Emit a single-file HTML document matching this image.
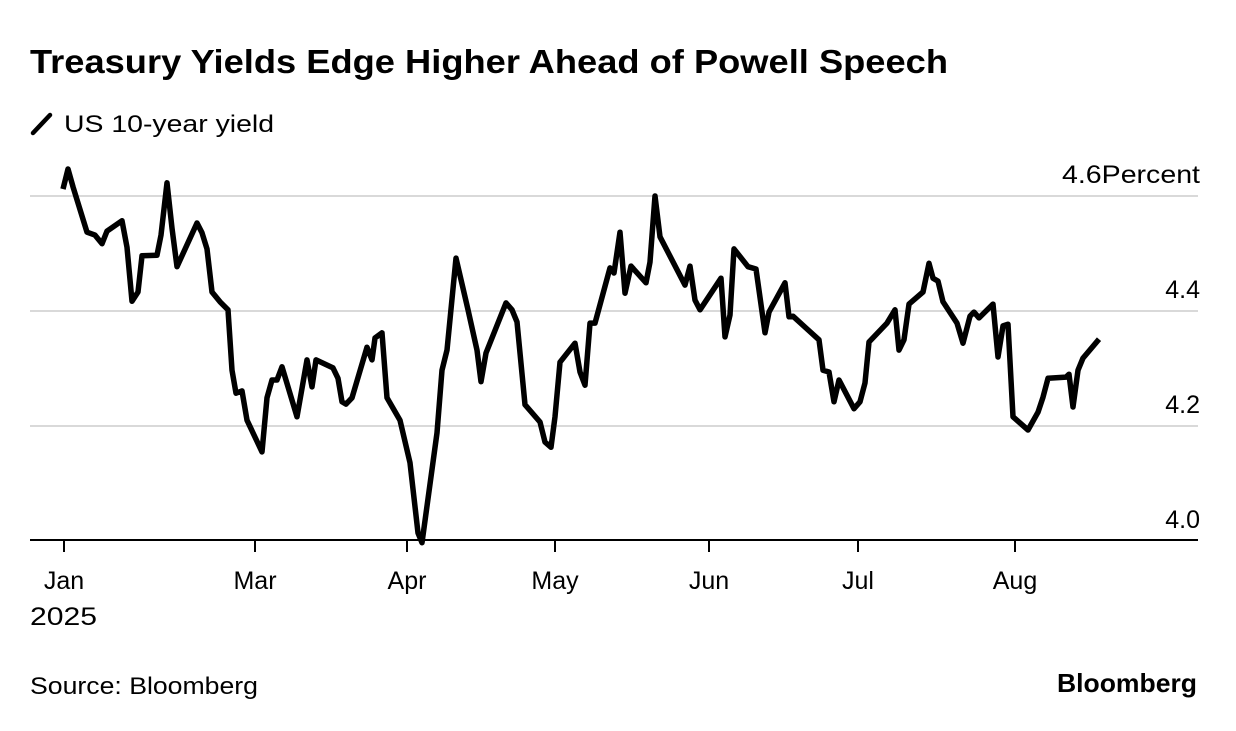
<!DOCTYPE html>
<html><head><meta charset="utf-8"><style>
html,body{margin:0;padding:0;background:#fff;}
body{width:1236px;height:726px;overflow:hidden;font-family:"Liberation Sans",sans-serif;}
</style></head><body>
<svg id="c" width="1236" height="726" xmlns="http://www.w3.org/2000/svg" font-family="Liberation Sans, sans-serif">
<text x="30" y="73" font-size="33" font-weight="bold" fill="#000" textLength="918" lengthAdjust="spacingAndGlyphs">Treasury Yields Edge Higher Ahead of Powell Speech</text>
<line x1="33" y1="133" x2="50" y2="115" stroke="#000" stroke-width="4.5" stroke-linecap="round"/>
<text x="64" y="132" font-size="24" fill="#000" textLength="210" lengthAdjust="spacingAndGlyphs">US 10-year yield</text>
<g id="grid"></g>
<g id="xaxis"></g>
<path id="line" fill="none" stroke="#000" stroke-width="5.5" stroke-linejoin="round"/>
<text x="30" y="625" font-size="25" fill="#000" textLength="67" lengthAdjust="spacingAndGlyphs">2025</text>
<text x="30" y="694" font-size="24" fill="#000" textLength="228" lengthAdjust="spacingAndGlyphs">Source: Bloomberg</text>
<text x="1197" y="692" font-size="26" font-weight="bold" text-anchor="end" fill="#000" textLength="140" lengthAdjust="spacingAndGlyphs">Bloomberg</text>
</svg>
<script>
const xs = [-0.2,0.8,1.8,4.6,6.2,7.6,8.6,11.6,12.6,13.6,14.8,15.6,18.6,19.4,20.6,21.6,22.6,26.6,27.6,28.6,29.6,31.2,32.8,33.6,34.4,35.6,36.6,39.6,40.6,41.6,42.6,43.6,46.6,48.6,49.6,50.4,53.8,54.8,55.6,56.4,57.6,60.6,61.6,62.2,63.6,64.6,67.2,69.2,70.8,71.6,74.6,75.6,76.6,78.4,80.8,82.6,83.4,84.4,88.4,89.6,90.6,92.2,95.2,96.2,97.4,98.2,99.2,102.2,103.2,104.2,105.2,106.2,109.2,110,111.2,112.2,113.4,116.4,117.2,118.2,119.2,124.2,125.2,126.2,127.2,131.4,132.2,133.2,134,136.8,138.4,140.2,141,144.2,145,145.8,148.2,151,151.8,153,154,155,158,159.2,160.2,161,164.6,166.2,167,168,169,171.8,173,173.8,174.8,175.8,178.6,179.8,181.2,182,183,185.8,186.8,187.8,188.8,189.8,192.8,194.8,195.8,196.8,200.4,201,201.8,202.8,203.8,207];
const yields = [4.612,4.647,4.616,4.537,4.532,4.517,4.539,4.557,4.511,4.417,4.433,4.496,4.497,4.532,4.623,4.544,4.477,4.553,4.536,4.508,4.433,4.416,4.402,4.297,4.257,4.261,4.210,4.155,4.249,4.280,4.280,4.303,4.216,4.315,4.268,4.315,4.301,4.283,4.242,4.238,4.249,4.337,4.315,4.353,4.362,4.249,4.210,4.136,4.014,3.997,4.188,4.297,4.332,4.492,4.402,4.332,4.277,4.327,4.414,4.402,4.381,4.237,4.207,4.172,4.163,4.216,4.311,4.344,4.294,4.271,4.379,4.379,4.475,4.466,4.537,4.431,4.478,4.449,4.485,4.600,4.529,4.445,4.478,4.419,4.402,4.457,4.355,4.393,4.508,4.477,4.473,4.362,4.398,4.449,4.390,4.391,4.372,4.350,4.297,4.294,4.242,4.280,4.230,4.242,4.275,4.346,4.379,4.402,4.332,4.350,4.412,4.433,4.483,4.457,4.452,4.416,4.379,4.344,4.391,4.398,4.388,4.412,4.320,4.374,4.377,4.216,4.193,4.224,4.250,4.283,4.285,4.290,4.233,4.297,4.318,4.351];
const monthLabels = ["Jan","Mar","Apr","May","Jun","Jul","Aug"];
const monthPos = [0,38.2,68.6,98.2,129,158.8,190.2];
const yTicks = [4.0,4.2,4.4,4.6];
const yTickLabels = ["4.0","4.2","4.4","4.6"];

const NS="http://www.w3.org/2000/svg";
function X(t){return 64+t*5;}
function Y(v){return 196+(4.6-v)*575;}
function mk(tag,attrs,parent){const e=document.createElementNS(NS,tag);for(const k in attrs)e.setAttribute(k,attrs[k]);parent.appendChild(e);return e;}
const grid=document.getElementById('grid'), xa=document.getElementById('xaxis');
yTicks.forEach((v,i)=>{
  if(v>4.0){
    const g=mk('line',{x1:30,x2:1198,y1:Y(v),y2:Y(v),stroke:'#d9d9d9','stroke-width':2},grid);
    
    
  }
  const last=i===yTicks.length-1;
  const attrs={x:1200,y:Y(v)-13,'font-size':25,'text-anchor':'end',fill:'#000'};
  if(last){attrs.textLength=138;attrs.lengthAdjust='spacingAndGlyphs';}
  const t=mk('text',attrs,grid);
  t.textContent=yTickLabels[i]+(last?'Percent':'');
  
  
});
const ax=mk('line',{x1:30,x2:1198,y1:540,y2:540,stroke:'#000','stroke-width':2},xa);


monthPos.forEach((p,i)=>{
  const tk=mk('line',{x1:X(p),x2:X(p),y1:540,y2:552,stroke:'#000','stroke-width':2},xa);
  
  
  const lb=mk('text',{x:X(p),y:589,'font-size':25,'text-anchor':'middle',fill:'#000'},xa);
  lb.textContent=monthLabels[i];
  
  
});
document.getElementById('line').setAttribute('d',xs.map((t,i)=>(i?'L':'M')+X(t).toFixed(1)+','+Y(yields[i]).toFixed(1)).join(''));
</script>
</body></html>
